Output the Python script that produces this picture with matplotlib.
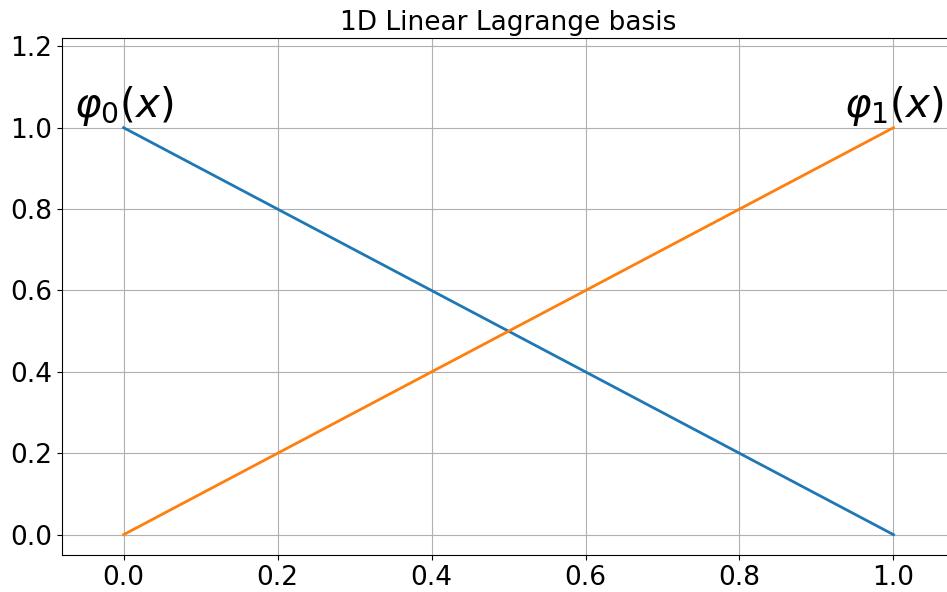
import numpy as np
import matplotlib
matplotlib.use("Agg")
import matplotlib.pyplot as plt

# Nodes of the reference element and the two linear basis functions
nodes = [0.0, 1.0]
phi0_values = [1.0, 0.0]
phi1_values = [0.0, 1.0]
labels = [r"$\varphi_0(x)$", r"$\varphi_1(x)$"]
x_ticks = [0.0, 0.2, 0.4, 0.6, 0.8, 1.0]
y_ticks = [0.0, 0.2, 0.4, 0.6, 0.8, 1.0, 1.2]

fig = plt.figure(figsize=(9.47, 5.92), dpi=100)
ax = fig.add_axes([0.0655, 0.0625, 0.943, 0.873])

ax.plot(nodes, phi0_values, color="#1f77b4", lw=2)
ax.plot(nodes, phi1_values, color="#ff7f0e", lw=2)

ax.text(nodes[0], phi0_values[0], labels[0], ha="center", va="bottom", fontsize=29)
ax.text(nodes[1], phi1_values[1], labels[1], ha="center", va="bottom", fontsize=29)

ax.set_xlim(-0.08, 1.08)
ax.set_ylim(-0.05, 1.22)
ax.set_xticks(x_ticks)
ax.set_yticks(y_ticks)
ax.tick_params(labelsize=19)
ax.grid(True)
ax.set_title("1D Linear Lagrange basis", fontsize=19)

fig.savefig("out.png", dpi=100)
